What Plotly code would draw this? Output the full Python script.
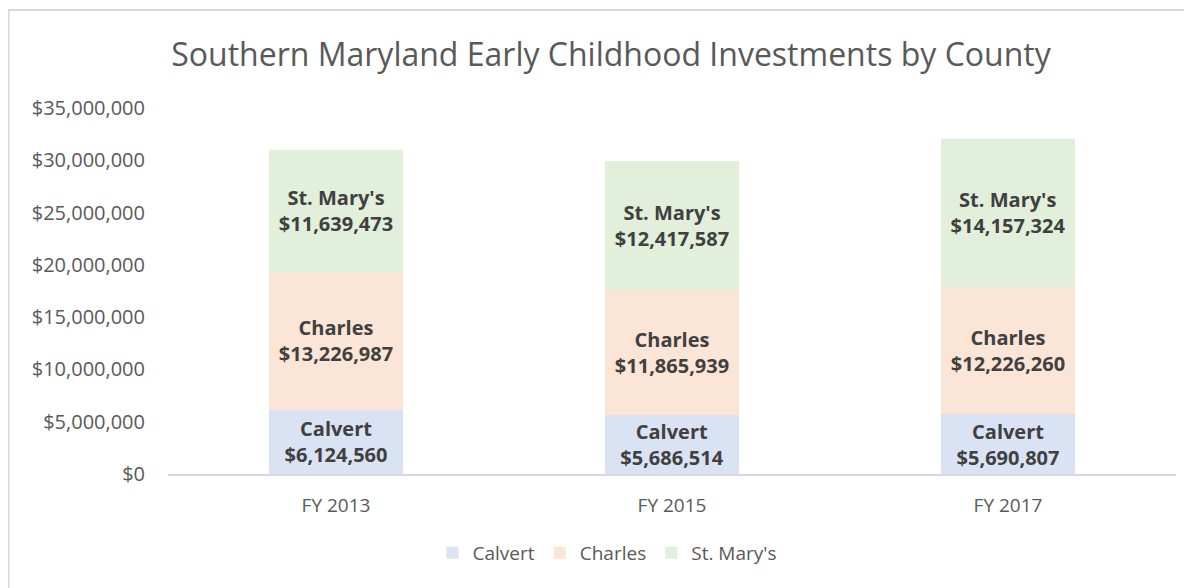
import plotly.graph_objects as go

years = ["FY 2013", "FY 2015", "FY 2017"]
calvert = [6124560, 5686514, 5690807]
charles = [13226987, 11865939, 12226260]
stmarys = [11639473, 12417587, 14157324]
series = [("Calvert", calvert, "#DAE3F3"),
          ("Charles", charles, "#FBE5D6"),
          ("St. Mary's", stmarys, "#E2EFDA")]
tick_vals = [0, 5e6, 10e6, 15e6, 20e6, 25e6, 30e6, 35e6]
tick_text = ["$0", "$5,000,000", "$10,000,000", "$15,000,000", "$20,000,000",
             "$25,000,000", "$30,000,000", "$35,000,000"]

FONT = "Open Sans"
fig = go.Figure()
for name, vals, col in series:
    fig.add_trace(go.Bar(
        x=years, y=vals, name=name, marker=dict(color=col, line=dict(width=0)),
        text=[f"<b>{name}<br>${v:,.0f}</b>" for v in vals],
        textposition="inside", insidetextanchor="middle",
        textfont=dict(family=FONT, size=20, color="#404040"),
        hoverinfo="skip",
    ))

# page body adds an 8px offset; figure laid out in its own coordinates
W, H = 1184, 580
L, T = 160, 100
R = W - 1168
B = H - 466
pw, ph = W - L - R, H - T - B
fig.update_layout(
    barmode="stack", bargap=0.6,
    width=W, height=H,
    margin=dict(l=L, r=R, t=T, b=B),
    paper_bgcolor="white", plot_bgcolor="white",
    title=dict(text="Southern Maryland Early Childhood Investments by County",
               x=(603 - L) / pw, xref="paper", xanchor="center", y=1 - 47 / H, yanchor="middle",
               font=dict(family=FONT, size=32, color="#595959")),
    font=dict(family=FONT, color="#595959"),
    legend=dict(orientation="h", x=(599 - L) / pw, xanchor="center", y=(466 - 545) / ph,
                yanchor="middle", font=dict(size=19, color="#595959"),
                traceorder="normal", itemwidth=30),
    uniformtext=dict(minsize=8, mode="show"),
    xaxis=dict(showgrid=False, showline=True, linecolor="#D9D9D9", linewidth=2,
               tickfont=dict(size=19, color="#595959"), ticks="",
               ticklabelstandoff=13),
    yaxis=dict(range=[0, 35e6], tickvals=tick_vals, ticktext=tick_text,
               showgrid=False, zeroline=False, showline=False,
               tickfont=dict(size=20, color="#595959"), ticks="",
               ticklabelstandoff=22),
    shapes=[
        dict(type="line", xref="paper", yref="paper",
             x0=(0 - L) / pw, x1=(W - L) / pw, y0=(466 - 2) / ph, y1=(466 - 2) / ph,
             line=dict(color="#D9D9D9", width=2)),
        dict(type="line", xref="paper", yref="paper",
             x0=(0 - L) / pw, x1=(0 - L) / pw, y0=(466 - 2) / ph, y1=(466 - H) / ph,
             line=dict(color="#D9D9D9", width=3)),
    ],
)
fig.write_html("out.html")
